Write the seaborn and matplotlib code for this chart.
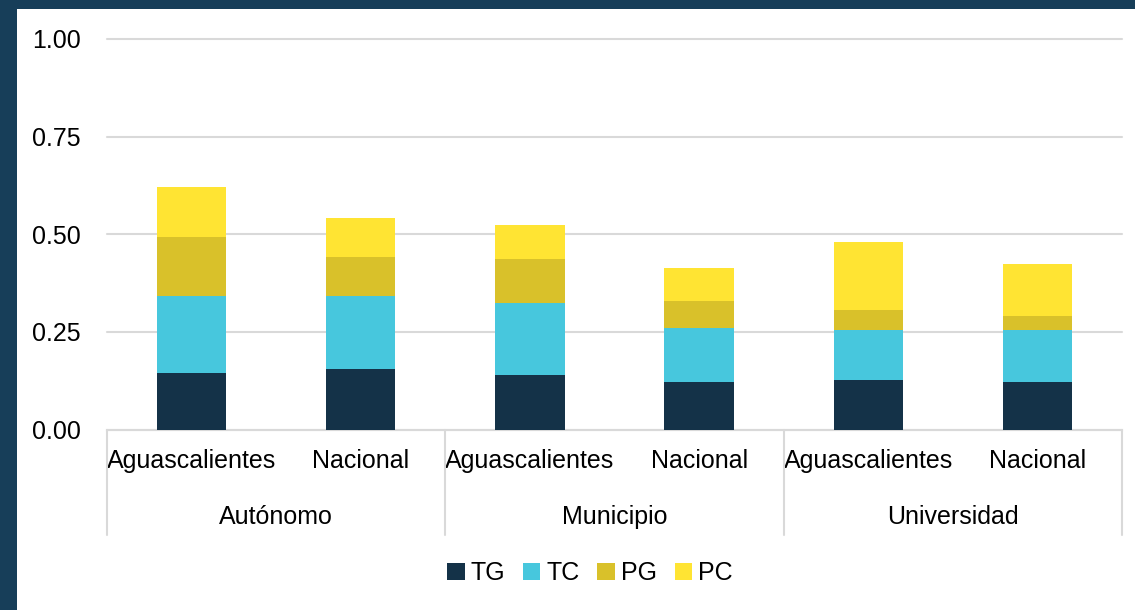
import numpy as np
import pandas as pd
import seaborn as sns
import matplotlib.pyplot as plt
from matplotlib.patches import Rectangle
from matplotlib.transforms import blended_transform_factory

# =========================================
# DATA
# =========================================
grupos = ["Autónomo", "Municipio", "Universidad"]
ambitos = ["Aguascalientes", "Nacional"]
componentes = ["TG", "TC", "PG", "PC"]

tg = [0.145, 0.155, 0.140, 0.121, 0.127, 0.121]
tc = [0.197, 0.187, 0.184, 0.138, 0.128, 0.135]
pg = [0.150, 0.099, 0.112, 0.069, 0.050, 0.035]
pc = [0.128, 0.101, 0.087, 0.086, 0.175, 0.132]

colores = ["#143248", "#47C7DD", "#D9C12A", "#FFE433"]
marco = "#173E59"

# =========================================
# TABLE
# =========================================
barras = [f"{g}|{a}" for g in grupos for a in ambitos]
df = pd.DataFrame({"barra": barras, "TG": tg, "TC": tc, "PG": pg, "PC": pc})
# cumulative heights for stacking (drawn top layer first)
acum = df[componentes].cumsum(axis=1)

# =========================================
# PLOT
# =========================================
sns.set_style("white")
plt.rcParams["font.family"] = ["Liberation Sans", "DejaVu Sans"]
plt.rcParams["text.color"] = "black"
fs = 18

fig = plt.figure(figsize=(11.35, 6.10), dpi=100)
fig.patch.set_facecolor(marco)
fig.patches.append(Rectangle((17 / 1135, 0), 1, 1 - 9 / 610, transform=fig.transFigure,
                             facecolor="white", edgecolor="none", zorder=-1))

ax = fig.add_axes([107 / 1135, (610 - 429.5) / 610, (1122 - 107) / 1135, 390.5 / 610])
ax.set_facecolor("white")

for comp, col in reversed(list(zip(componentes, colores))):
    sns.barplot(x=df["barra"], y=acum[comp], order=barras, color=col, saturation=1,
                width=0.41, errorbar=None, linewidth=0, ax=ax, zorder=3)

ax.set_ylim(0, 1)
ax.set_xlim(-0.5, len(barras) - 0.5)
ax.set_yticks([0, 0.25, 0.5, 0.75, 1.0])
ax.set_yticklabels(["0.00", "0.25", "0.50", "0.75", "1.00"])
ax.yaxis.grid(True, color="#D9D9D9", linewidth=1.5)
for gl in ax.get_ygridlines():
    gl.set_clip_on(False)
ax.set_axisbelow(True)
ax.set_xticks(range(len(barras)))
ax.set_xticklabels([b.split("|")[1] for b in barras])
ax.tick_params(axis="y", length=0, pad=19, labelsize=fs, labelcolor="black")
ax.tick_params(axis="x", length=0, pad=14, labelsize=fs, labelcolor="black")
ax.set_xlabel("")
ax.set_ylabel("")
for s in ["top", "right", "left"]:
    ax.spines[s].set_visible(False)
ax.spines["bottom"].set_color("#D9D9D9")
ax.spines["bottom"].set_linewidth(1.5)

# second level of category axis
tr = blended_transform_factory(ax.transData, ax.transAxes)
for i, g in enumerate(grupos):
    ax.text(2 * i + 0.5, -0.224, g, transform=tr, ha="center", va="center",
            fontsize=fs, color="black")
for xs in [-0.5, 1.5, 3.5, 5.5]:
    ax.plot([xs, xs], [0, -0.27], transform=tr, color="#D9D9D9", linewidth=1.5, clip_on=False)

handles = [Rectangle((0, 0), 1, 1, facecolor=c, edgecolor="none") for c in colores]
leg = fig.legend(handles, componentes, loc="center", bbox_to_anchor=(590 / 1135, 1 - 573 / 610),
                 ncol=4, frameon=False, fontsize=fs, handlelength=0.7, handleheight=0.7,
                 handletextpad=0.25, columnspacing=0.7)
for t in leg.get_texts():
    t.set_color("black")

fig.savefig("out.png", dpi=100, facecolor=fig.get_facecolor())
